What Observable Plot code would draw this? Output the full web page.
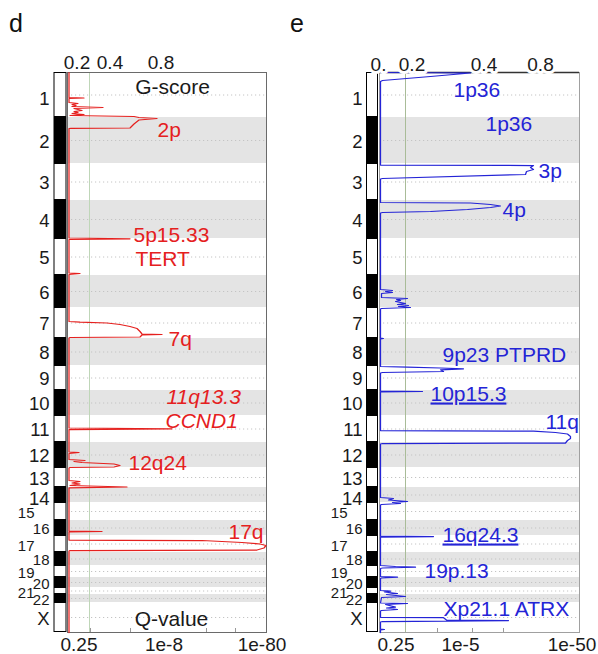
<!DOCTYPE html>
<html><head><meta charset="utf-8">
<script src="https://cdn.jsdelivr.net/npm/d3@7"></script>
<script src="https://cdn.jsdelivr.net/npm/@observablehq/plot@0.6"></script>
<style>
body{margin:0;background:#fff;}
#wrap{position:relative;width:598px;height:654px;overflow:hidden;font-family:"Liberation Sans",Arial,Helvetica,sans-serif;}
.panel{position:absolute;top:0;width:299px;height:654px;}
.plab{position:absolute;top:11px;font-size:25px;line-height:25px;color:#111;}
</style></head><body>
<div id="wrap">
<div class="plab" style="left:9px">d</div>
<div class="plab" style="left:290px">e</div>
<div id="pd" class="panel" style="left:0"></div>
<div id="pe" class="panel" style="left:299px"></div>
</div>
<script>
// chromosomes (relative lengths)
const chromNames = ["1","2","3","4","5","6","7","8","9","10","11","12","13","14","15","16","17","18","19","20","21","22","X"];
const chromLengths = [225,230,185,190,185,160,155,135,125,125,135,125,100,75,90,75,85,65,60,50,35,40,150];
const smallEvenNames = ["16","18","20","22"];
const smallOddNames = ["15","17","19","21"];
const lowerNames = ["1","14"];

// amplification G-score profile: [genome position, score]
const ampProfile = [[0,0],[125,0],[127.5,0.15],[130,0],[150,0],[155,0.09],[160,0.03],[165,0.07],[170,0.03],[175,0.34],[180,0.05],[190,0.13],[195,0.05],[200,0.09],[205,0.03],[210,0.15],[215,0.01],[220,0.65],[225,0.70],[230,0.88],[237.5,0.70],[257.5,0.65],[277.5,0.61],[279,0.02],[280,0],
[827.5,0],[831.5,0.61],[835,0],
[1002.5,0],[1005,0.11],[1010,0],
[1245,0],[1248.5,0.11],[1252.5,0.38],[1260,0.51],[1270,0.61],[1280,0.68],[1295,0.71],[1307.5,0.73],[1310,0.93],[1312.5,0.73],[1322.5,0.71],[1325,0.01],[1327.5,0],
[1777.5,0],[1781.5,1.03],[1785,0],
[1897.5,0],[1900,0.10],[1905,0],[1935,0],[1940,0.16],[1945,0.05],[1950,0.13],[1957.5,0.45],[1965,0.51],[1972.5,0.45],[1975,0.01],[1977.5,0],
[2040,0],[2045,0.11],[2052.5,0.03],[2057.5,0.11],[2065,0.01],[2072.5,0.58],[2076.5,0],
[2292.5,0],[2295,0.33],[2297.5,0],
[2337.5,0],[2339,0.53],[2340,1.33],[2350,1.73],[2357.5,1.91],[2365,1.97],[2377.5,1.95],[2387.5,1.88],[2390,0.01],[2392.5,0],
[2800,0]];

// deletion G-score profile: [genome position, score]
const delProfile = [[0,0],[2.5,0.90],[20,0.50],[40,0.02],[45,0],
[462.5,0],[465,1.53],[475,1.50],[485,1.53],[495,1.46],[510,1.45],[530,0.02],[532.5,0],
[650,0],[652.5,0.90],[660,1.10],[667.5,1.20],[675,1.10],[685,0.87],[695,0.50],[700,0.02],[702.5,0],
[1085,0],[1090,0.12],[1095,0.05],[1100,0.12],[1105,0.01],[1125,0.01],[1130,0.27],[1135,0.16],[1140,0.20],[1145,0.15],[1155,0.25],[1160,0.17],[1165,0.28],[1170,0.18],[1175,0.30],[1180,0.01],[1182.5,0],
[1327.5,0],[1330,0.03],[1332.5,0],
[1470,0],[1473.5,0.27],[1477.5,0.60],[1481.5,0.83],[1486.5,0.60],[1495,0.63],[1500,0.02],[1502.5,0],
[1592.5,0],[1595,0.42],[1597.5,0],
[1790,0],[1793.5,1.53],[1800,1.75],[1807.5,1.87],[1820,1.90],[1830,1.90],[1840,1.87],[1852.5,1.85],[1855,0.02],[1857.5,0],
[2125,0],[2130,0.13],[2137.5,0.08],[2145,0.27],[2150,0.12],[2155,0.20],[2160,0.01],[2162.5,0],
[2317.5,0],[2320,0.53],[2322.5,0],
[2465,0],[2470,0.15],[2473.5,0.35],[2477.5,0.02],[2480,0],
[2520,0],[2523.5,0.17],[2527.5,0.01],[2530,0],
[2590,0],[2593.5,0.10],[2597.5,0.04],[2605,0.17],[2610,0.06],[2620,0.25],[2625,0.01],[2652.5,0],[2655,0.27],[2660,0.05],[2673.5,0.15],[2677.5,0.06],[2685,0.17],[2690,0.01],[2692.5,0],
[2724,0],[2726,0.63],[2737.5,0.66],[2740,1.28],[2742.5,0.66],[2745,0.02],[2747.5,0],
[2782.5,0],[2785,0.04],[2787.5,0],
[2800,0]];

// axis labels: [position on the score axis, label]
const ampTopTicks = [[0.08,"0.2"],[0.41,"0.4"],[0.92,"0.8"]];
const ampBottomTicks = [[0.10,"0.25"],[0.95,"1e-8"],[1.93,"1e-80"]];
const delTopTicks = [[-0.02,"0."],[0.315,"0.2"],[1.035,"0.4"],[1.60,"0.8"]];
const delBottomTicks = [[0.155,"0.25"],[0.80,"1e-5"],[1.915,"1e-50"]];
const ampMinorTicks = [0.215,0.615,1.375,1.665];
const delMinorTicks = [0.57,0.92,1.23];
const ampThreshold = 0.205;
const delThreshold = 0.25;
const ampTitles = [[1.035,"G-score"],[1.025,"Q-value"]];

// peak labels: [label, score, genome position]
const ampPeaks = [["2p",0.885,320],["5p15.33",0.645,847.5],["TERT",0.665,965],["7q",0.995,1365],["11q13.3",0.975,1655],["CCND1",0.965,1775],["12q24",0.595,1985],["17q",1.595,2330]];
const ampItalic = ["11q13.3","CCND1"];
const delPeaks = [["1p36",0.73,122.5],["1p36",1.05,290],["3p",1.58,525],["4p",1.22,720],["9p23 PTPRD",0.62,1445],["10p15.3",0.50,1640],["11q",1.65,1780],["16q24.3",0.62,2345],["19p.13",0.44,2525],["Xp21.1 ATRX",0.63,2715]];
const delUnderlined = ["10p15.3","16q24.3"];

let acc = 0;
const chroms = chromNames.map((name, i) => {
  const start = acc; acc += chromLengths[i];
  return {name, start, end: acc, mid: (start + acc) / 2, dark: i % 2 === 1};
});
const genomeEnd = acc;

function panel(o) {
  const xmin = o.domain[0];
  const isSmall = c => smallEvenNames.includes(c.name) || smallOddNames.includes(c.name);
  const big = chroms.filter(c => !isSmall(c) && !lowerNames.includes(c.name));
  const bigLow = chroms.filter(c => lowerNames.includes(c.name));
  const sEven = chroms.filter(c => smallEvenNames.includes(c.name));
  const sOdd = chroms.filter(c => smallOddNames.includes(c.name));
  const txt = "#1a1a1a";
  const marks = [
    Plot.rect(chroms.filter(c => c.dark), {y1: "start", y2: "end", fill: "#e4e4e4"}),
    Plot.ruleY(chroms, {y: "mid", stroke: "#c4c4c4", strokeDasharray: "1.2,2.8", strokeWidth: 1}),
    Plot.ruleX([o.threshold], {stroke: o.thrColor, strokeWidth: 1}),
    Plot.frame({stroke: o.frameColor}),
    Plot.ruleX(o.minor, {y1: genomeEnd, y2: genomeEnd - 20, stroke: "#999"}),
  ];
  if (o.topRule) marks.push(Plot.ruleY([0], {stroke: "#333", strokeWidth: 1.6}));
  const lab = {x: () => xmin, y: "mid", text: "name", textAnchor: "end", lineAnchor: "middle", fill: txt};
  marks.push(
    Plot.line(o.profile, {x: d => d[1], y: d => d[0], stroke: o.color, strokeWidth: 1.25, curve: "linear"}),
    // ideogram
    Plot.ruleX([xmin], {y1: 0, y2: genomeEnd, stroke: "#000", strokeWidth: o.stripW, dx: -7.5}),
    Plot.ruleX(chroms.filter(c => !c.dark), {x: () => xmin, y1: "start", y2: "end", stroke: "#fff", strokeWidth: o.stripW - 2, dx: -7.5, insetTop: 1, insetBottom: 1}),
    Plot.text(big, {...lab, dx: o.lblDx, dy: 1.5, fontSize: 18.5}),
    Plot.text(bigLow, {...lab, dx: o.lblDx, dy: 4, fontSize: 18.5}),
    Plot.text(sEven, {...lab, dx: o.lblDx, dy: 1.5, fontSize: 15}),
    Plot.text(sOdd, {...lab, dx: o.lblDx - 15, dy: 2, fontSize: 15}),
    Plot.text(o.top, {x: d => d[0], text: d => d[1], frameAnchor: "top", lineAnchor: "bottom", dy: o.topDy, fontSize: 19, fill: txt,
      ...(o.topRule ? {stroke: "#fff", strokeWidth: 6} : {})}),
    Plot.text(o.bottom, {x: d => d[0], text: d => d[1], frameAnchor: "bottom", lineAnchor: "bottom", dy: 18, fontSize: 19, fill: txt}),
    Plot.text(o.peaks.filter(p => !o.italic.includes(p[0])), {x: d => d[1], y: d => d[2], text: d => d[0], textAnchor: "start", lineAnchor: "bottom", fontSize: 21, fill: o.color}),
    Plot.text(o.peaks.filter(p => o.italic.includes(p[0])), {x: d => d[1], y: d => d[2], text: d => d[0], textAnchor: "start", lineAnchor: "bottom", fontSize: 21, fontStyle: "italic", fill: o.color})
  );
  if (o.titles) {
    marks.push(
      Plot.text([o.titles[0]], {x: d => d[0], text: d => d[1], frameAnchor: "top", lineAnchor: "bottom", dy: 21, fontSize: 21, fill: txt}),
      Plot.text([o.titles[1]], {x: d => d[0], text: d => d[1], frameAnchor: "bottom", lineAnchor: "bottom", dy: -7, fontSize: 21, fill: txt})
    );
  }
  const svg = Plot.plot({
    width: 299, height: 654,
    marginTop: 72, marginBottom: 22, marginLeft: o.ml, marginRight: o.mr,
    x: {domain: o.domain, axis: null},
    y: {domain: [0, genomeEnd], reverse: true, axis: null},
    style: {fontFamily: '"Liberation Sans", Arial, Helvetica, sans-serif', background: "transparent", overflow: "visible", maxWidth: "none"},
    marks
  });
  svg.querySelectorAll("text").forEach(t => {
    if (o.underline.includes(t.textContent)) t.setAttribute("text-decoration", "underline");
  });
  return svg;
}

document.getElementById("pd").appendChild(panel({
  profile: ampProfile, color: "#e5201e", domain: [-0.015, 1.975], ml: 67, mr: 33,
  threshold: ampThreshold, thrColor: "#bfd6b8", frameColor: "#6a6a6a", topRule: false,
  top: ampTopTicks, topDy: -4, bottom: ampBottomTicks, minor: ampMinorTicks,
  peaks: ampPeaks, italic: ampItalic, underline: [], titles: ampTitles,
  stripW: 13, lblDx: -18
}));
document.getElementById("pe").appendChild(panel({
  profile: delProfile, color: "#2424d6", domain: [-0.01, 1.99], ml: 80, mr: 19,
  threshold: delThreshold, thrColor: "#a9bc98", frameColor: "#a0a0a0", topRule: true,
  top: delTopTicks, topDy: -2, bottom: delBottomTicks, minor: delMinorTicks,
  peaks: delPeaks, italic: [], underline: delUnderlined, titles: null,
  stripW: 12, lblDx: -17
}));
</script>
</body></html>
